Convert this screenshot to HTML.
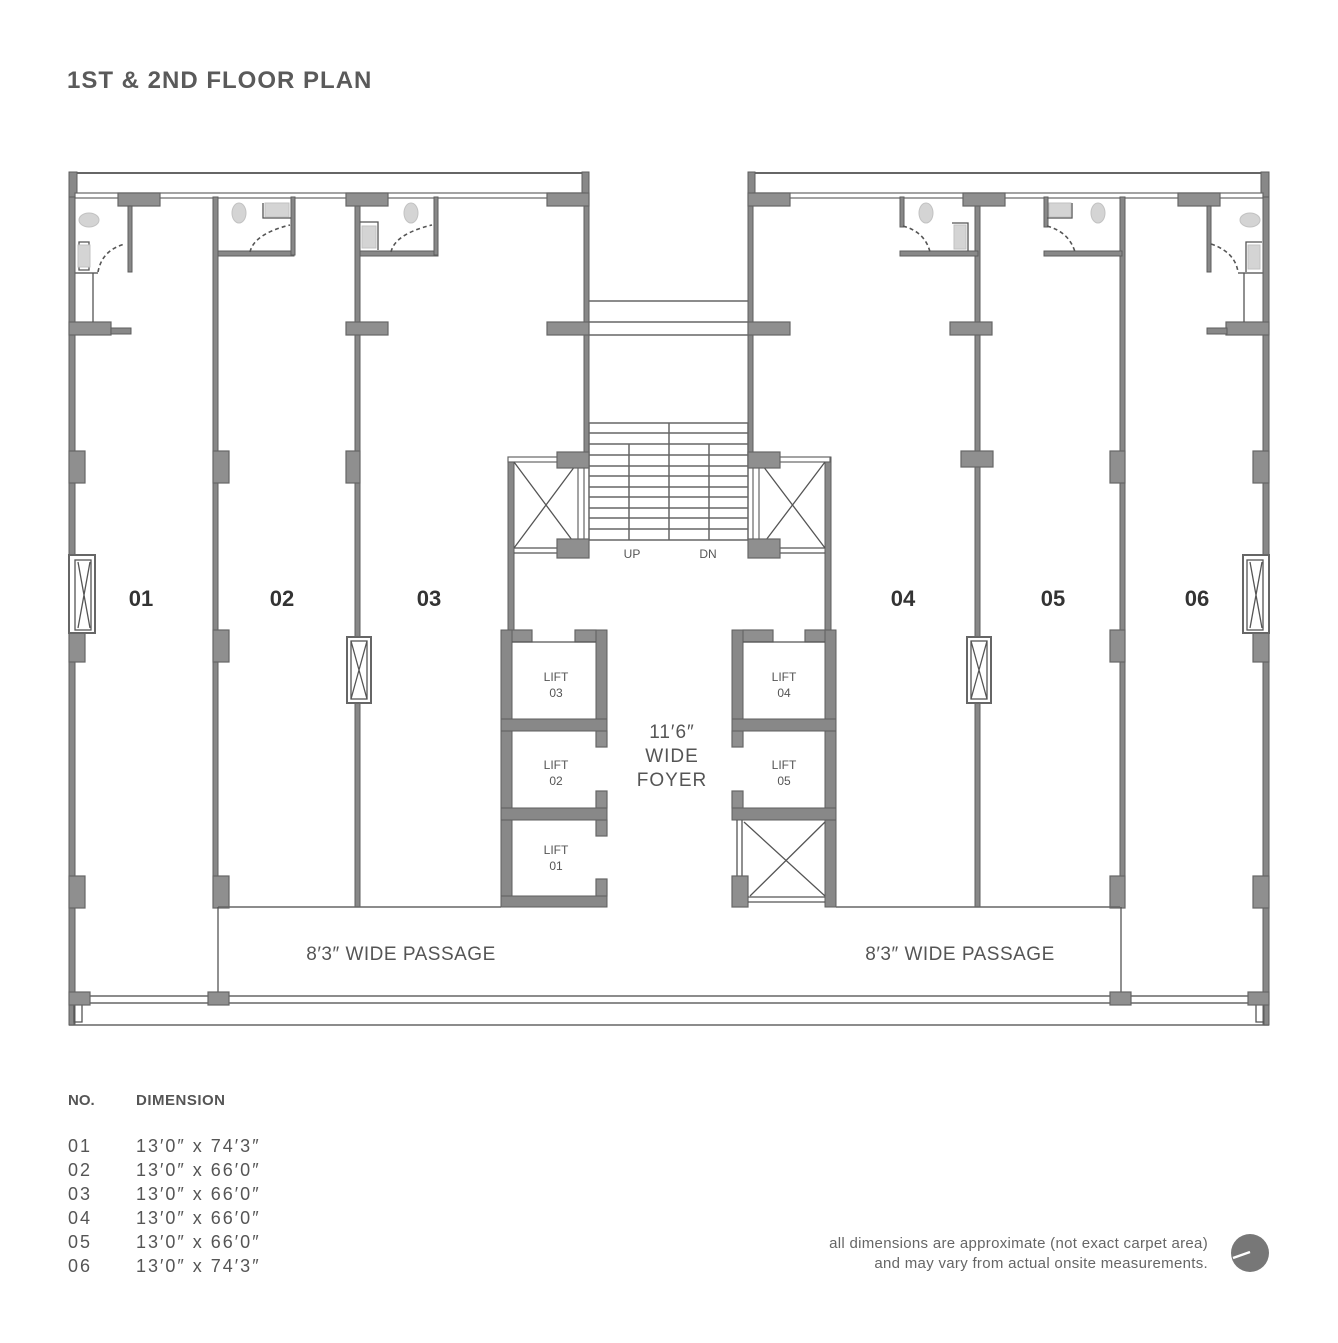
<!DOCTYPE html>
<html><head><meta charset="utf-8">
<style>
html,body{margin:0;padding:0;background:#fff;}
body{width:1338px;height:1343px;overflow:hidden;}
svg{display:block;}
text{font-family:"Liberation Sans",sans-serif;}
.w{fill:#888;stroke:#5e5e5e;stroke-width:1;}
.c{fill:#8f8f8f;stroke:#666;stroke-width:1.2;}
.l{stroke:#666;stroke-width:1.5;fill:none;}
.t{stroke:#555;stroke-width:1.3;fill:none;}
.d{stroke:#555;stroke-width:1.6;fill:none;stroke-dasharray:4 3;}
.fx{fill:#d4d4d4;stroke:#c2c2c2;}
</style></head><body>
<svg width="1338" height="1343" viewBox="0 0 1338 1343" xmlns="http://www.w3.org/2000/svg">
<text x="67" y="88" font-size="24" font-weight="bold" fill="#5a5a5a" letter-spacing="1">1ST &amp; 2ND FLOOR PLAN</text>

<!-- ============ LEFT BLOCK ============ -->
<rect x="70" y="172" width="519" height="2" fill="#666"/>
<rect x="69" y="172" width="8" height="26" class="w"/>
<rect x="582" y="172" width="7" height="26" class="w"/>
<rect x="75" y="193" width="510" height="5" fill="#fff" stroke="#666" stroke-width="1.2"/>
<rect x="69" y="197" width="6" height="828" class="w"/>
<rect x="213" y="197" width="5" height="710" class="w"/>
<rect x="355" y="197" width="5" height="440" class="w"/>
<rect x="355" y="703" width="5" height="204" class="w"/>
<rect x="584" y="197" width="5" height="260" class="w"/>
<rect x="118" y="193" width="42" height="13" class="c"/>
<rect x="346" y="193" width="42" height="13" class="c"/>
<rect x="547" y="193" width="42" height="13" class="c"/>
<rect x="69" y="322" width="42" height="13" class="c"/>
<rect x="111" y="328" width="20" height="6" class="w"/>
<rect x="346" y="322" width="42" height="13" class="c"/>
<rect x="547" y="322" width="42" height="13" class="c"/>
<rect x="69" y="451" width="16" height="32" class="c"/>
<rect x="213" y="451" width="16" height="32" class="c"/>
<rect x="346" y="451" width="14" height="32" class="c"/>
<rect x="69" y="630" width="16" height="32" class="c"/>
<rect x="213" y="630" width="16" height="32" class="c"/>
<rect x="69" y="876" width="16" height="32" class="c"/>
<rect x="213" y="876" width="16" height="32" class="c"/>
<rect x="69" y="555" width="26" height="78" fill="#fff" stroke="#666" stroke-width="2"/>
<rect x="75" y="560" width="16" height="70" class="t"/>
<path d="M78 562 L90 628 M90 562 L78 628" class="t"/>
<rect x="347" y="637" width="24" height="66" fill="#fff" stroke="#666" stroke-width="2"/>
<rect x="351" y="641" width="16" height="58" class="t"/>
<path d="M351 641 L367 699 M367 641 L351 699" class="t"/>
<rect x="128" y="206" width="4" height="66" class="w"/>
<path d="M75 273 H98" class="l" stroke-width="3"/>
<path d="M93 273 V322" class="t"/>
<path d="M79 242 H89 V270 H79 Z" class="t"/>
<rect x="78" y="245" width="12" height="22" class="fx"/>
<ellipse cx="89" cy="220" rx="10" ry="7" class="fx"/>
<path d="M98 272 Q102 250 125 244" class="d"/>
<rect x="218" y="251" width="76" height="5" class="w"/>
<rect x="291" y="197" width="4" height="58" class="w"/>
<path d="M263 203 V218 H291" class="t"/>
<rect x="265" y="203" width="24" height="14" class="fx"/>
<ellipse cx="239" cy="213" rx="7" ry="10" class="fx"/>
<path d="M250 252 Q254 234 290 225" class="d"/>
<rect x="360" y="251" width="78" height="5" class="w"/>
<rect x="434" y="197" width="4" height="58" class="w"/>
<path d="M360 222 H378 V250" class="t"/>
<rect x="362" y="226" width="14" height="22" class="fx"/>
<ellipse cx="411" cy="213" rx="7" ry="10" class="fx"/>
<path d="M391 252 Q395 234 432 225" class="d"/>

<!-- ============ RIGHT BLOCK ============ -->
<rect x="748" y="172" width="521" height="2" fill="#666"/>
<rect x="748" y="172" width="7" height="26" class="w"/>
<rect x="1261" y="172" width="8" height="26" class="w"/>
<rect x="753" y="193" width="510" height="5" fill="#fff" stroke="#666" stroke-width="1.2"/>
<rect x="1263" y="197" width="6" height="828" class="w"/>
<rect x="748" y="197" width="5" height="260" class="w"/>
<rect x="975" y="197" width="5" height="440" class="w"/>
<rect x="975" y="703" width="5" height="204" class="w"/>
<rect x="1120" y="197" width="5" height="710" class="w"/>
<rect x="748" y="193" width="42" height="13" class="c"/>
<rect x="963" y="193" width="42" height="13" class="c"/>
<rect x="1178" y="193" width="42" height="13" class="c"/>
<rect x="748" y="322" width="42" height="13" class="c"/>
<rect x="950" y="322" width="42" height="13" class="c"/>
<rect x="1226" y="322" width="43" height="13" class="c"/>
<rect x="1207" y="328" width="20" height="6" class="w"/>
<rect x="961" y="451" width="32" height="16" class="c"/>
<rect x="1110" y="451" width="15" height="32" class="c"/>
<rect x="1253" y="451" width="16" height="32" class="c"/>
<rect x="1110" y="630" width="15" height="32" class="c"/>
<rect x="1253" y="630" width="16" height="32" class="c"/>
<rect x="1110" y="876" width="15" height="32" class="c"/>
<rect x="1253" y="876" width="16" height="32" class="c"/>
<rect x="1243" y="555" width="26" height="78" fill="#fff" stroke="#666" stroke-width="2"/>
<rect x="1247" y="560" width="16" height="70" class="t"/>
<path d="M1250 562 L1262 628 M1262 562 L1250 628" class="t"/>
<rect x="967" y="637" width="24" height="66" fill="#fff" stroke="#666" stroke-width="2"/>
<rect x="971" y="641" width="16" height="58" class="t"/>
<path d="M971 641 L987 699 M987 641 L971 699" class="t"/>
<rect x="900" y="251" width="78" height="5" class="w"/>
<rect x="900" y="197" width="4" height="30" class="w"/>
<path d="M952 223 H968 V251" class="t"/>
<rect x="954" y="225" width="12" height="24" class="fx"/>
<ellipse cx="926" cy="213" rx="7" ry="10" class="fx"/>
<path d="M903 226 Q925 232 930 252" class="d"/>
<rect x="1044" y="251" width="78" height="5" class="w"/>
<rect x="1044" y="197" width="4" height="30" class="w"/>
<path d="M1047 218 H1072 V203" class="t"/>
<rect x="1049" y="203" width="22" height="14" class="fx"/>
<ellipse cx="1098" cy="213" rx="7" ry="10" class="fx"/>
<path d="M1047 226 Q1069 232 1075 252" class="d"/>
<rect x="1207" y="206" width="4" height="66" class="w"/>
<path d="M1238 273 H1263" class="l" stroke-width="3"/>
<path d="M1244 273 V322" class="t"/>
<path d="M1262 242 H1246 V272" class="t"/>
<rect x="1248" y="245" width="12" height="24" class="fx"/>
<ellipse cx="1250" cy="220" rx="10" ry="7" class="fx"/>
<path d="M1211 244 Q1235 252 1238 272" class="d"/>

<!-- ============ STAIR CORE ============ -->
<path d="M589 301 H748 M589 322 H748 M589 335 H748" class="l"/>
<rect x="589" y="423" width="159" height="117" fill="#fff" stroke="#666" stroke-width="1.5"/>
<g class="l">
<path d="M589 433 H748 M589 444 H748 M589 455 H748 M589 466 H748 M589 476 H748 M589 487 H748 M589 497 H748 M589 508 H748 M589 518 H748 M589 529 H748"/>
<path d="M669 423 V540 M629 444 V540 M709 444 V540"/>
</g>
<rect x="508" y="457" width="6" height="173" class="w"/>
<rect x="508" y="457" width="70" height="5" fill="#fff" stroke="#666" stroke-width="1.2"/>
<rect x="578" y="462" width="6" height="87" fill="#fff" stroke="#666" stroke-width="1.2"/>
<path d="M514 462 L578 548 M578 462 L514 548" class="t"/>
<path d="M514 548 H557 M514 553 H557" class="t"/>
<rect x="557" y="452" width="32" height="16" class="c"/>
<rect x="557" y="539" width="32" height="19" class="c"/>
<rect x="825" y="457" width="6" height="173" class="w"/>
<rect x="760" y="457" width="70" height="5" fill="#fff" stroke="#666" stroke-width="1.2"/>
<rect x="753" y="462" width="6" height="87" fill="#fff" stroke="#666" stroke-width="1.2"/>
<path d="M760 462 L825 548 M825 462 L760 548" class="t"/>
<path d="M780 548 H825 M780 553 H825" class="t"/>
<rect x="748" y="452" width="32" height="16" class="c"/>
<rect x="748" y="539" width="32" height="19" class="c"/>
<text x="632" y="558" font-size="12" fill="#555" text-anchor="middle">UP</text>
<text x="708" y="558" font-size="12" fill="#555" text-anchor="middle">DN</text>

<rect x="501" y="630" width="11" height="277" class="w"/>
<rect x="596" y="630" width="11" height="90" class="w"/>
<rect x="501" y="719" width="106" height="12" class="w"/>
<rect x="501" y="808" width="106" height="12" class="w"/>
<rect x="501" y="896" width="106" height="11" class="w"/>
<rect x="596" y="731" width="11" height="16" class="c"/>
<rect x="596" y="791" width="11" height="17" class="c"/>
<rect x="596" y="820" width="11" height="16" class="c"/>
<rect x="596" y="879" width="11" height="17" class="c"/>
<rect x="512" y="630" width="20" height="12" class="c"/>
<rect x="575" y="630" width="21" height="12" class="c"/>
<path d="M512 642 H596" class="t"/>
<rect x="825" y="630" width="11" height="277" class="w"/>
<rect x="732" y="630" width="11" height="90" class="w"/>
<rect x="732" y="719" width="104" height="12" class="w"/>
<rect x="732" y="808" width="104" height="12" class="w"/>
<rect x="732" y="731" width="11" height="16" class="c"/>
<rect x="732" y="791" width="11" height="17" class="c"/>
<rect x="743" y="630" width="30" height="12" class="c"/>
<rect x="805" y="630" width="20" height="12" class="c"/>
<path d="M743 642 H825" class="t"/>
<path d="M742 820 V878 M737 820 V878" class="t"/>
<rect x="732" y="876" width="16" height="31" class="c"/>
<path d="M748 897 H825 M748 902 H825" class="t"/>
<path d="M744 822 L825 896 M825 822 L750 896" class="t"/>

<g font-size="12" fill="#555" text-anchor="middle">
<text x="556" y="681">LIFT</text><text x="556" y="697">03</text>
<text x="556" y="769">LIFT</text><text x="556" y="785">02</text>
<text x="556" y="854">LIFT</text><text x="556" y="870">01</text>
<text x="784" y="681">LIFT</text><text x="784" y="697">04</text>
<text x="784" y="769">LIFT</text><text x="784" y="785">05</text>
</g>
<g font-size="19" fill="#555" text-anchor="middle" letter-spacing="1">
<text x="672" y="738">11′6″</text>
<text x="672" y="762">WIDE</text>
<text x="672" y="786">FOYER</text>
</g>

<path d="M218 907 H501 M836 907 H1120" class="l"/>
<path d="M218 907 V996 M1121 907 V996" class="t"/>
<path d="M75 996 H1263 M75 1003 H1263" class="l"/>
<path d="M69 1025 H1269" class="l"/>
<rect x="69" y="1003" width="5" height="22" class="w"/>
<rect x="1264" y="1003" width="5" height="22" class="w"/>
<path d="M74 1003 V1022 H82 V1003 M1256 1003 V1022 H1264" class="t"/>
<rect x="69" y="992" width="21" height="13" class="c"/>
<rect x="208" y="992" width="21" height="13" class="c"/>
<rect x="1110" y="992" width="21" height="13" class="c"/>
<rect x="1248" y="992" width="21" height="13" class="c"/>
<g font-size="19" fill="#555" text-anchor="middle" letter-spacing="0.5">
<text x="401" y="960">8′3″ WIDE PASSAGE</text>
<text x="960" y="960">8′3″ WIDE PASSAGE</text>
</g>

<g font-size="22" font-weight="bold" fill="#333" text-anchor="middle">
<text x="141" y="606">01</text><text x="282" y="606">02</text><text x="429" y="606">03</text>
<text x="903" y="606">04</text><text x="1053" y="606">05</text><text x="1197" y="606">06</text>
</g>

<g font-size="15" fill="#555">
<text x="68" y="1105" font-weight="bold">NO.</text>
<text x="136" y="1105" font-weight="bold" letter-spacing="0.5">DIMENSION</text>
</g>
<g font-size="18" fill="#555" letter-spacing="2">
<text x="68" y="1152">01</text><text x="136" y="1152">13′0″ x 74′3″</text>
<text x="68" y="1176">02</text><text x="136" y="1176">13′0″ x 66′0″</text>
<text x="68" y="1200">03</text><text x="136" y="1200">13′0″ x 66′0″</text>
<text x="68" y="1224">04</text><text x="136" y="1224">13′0″ x 66′0″</text>
<text x="68" y="1248">05</text><text x="136" y="1248">13′0″ x 66′0″</text>
<text x="68" y="1272">06</text><text x="136" y="1272">13′0″ x 74′3″</text>
</g>
<g font-size="15" fill="#666" text-anchor="end" letter-spacing="0.3">
<text x="1208" y="1248">all dimensions are approximate (not exact carpet area)</text>
<text x="1208" y="1268">and may vary from actual onsite measurements.</text>
</g>
<circle cx="1250" cy="1253" r="19" fill="#777"/>
<path d="M1233 1258 L1250 1252" stroke="#fff" stroke-width="2.5"/>
</svg>
</body></html>
